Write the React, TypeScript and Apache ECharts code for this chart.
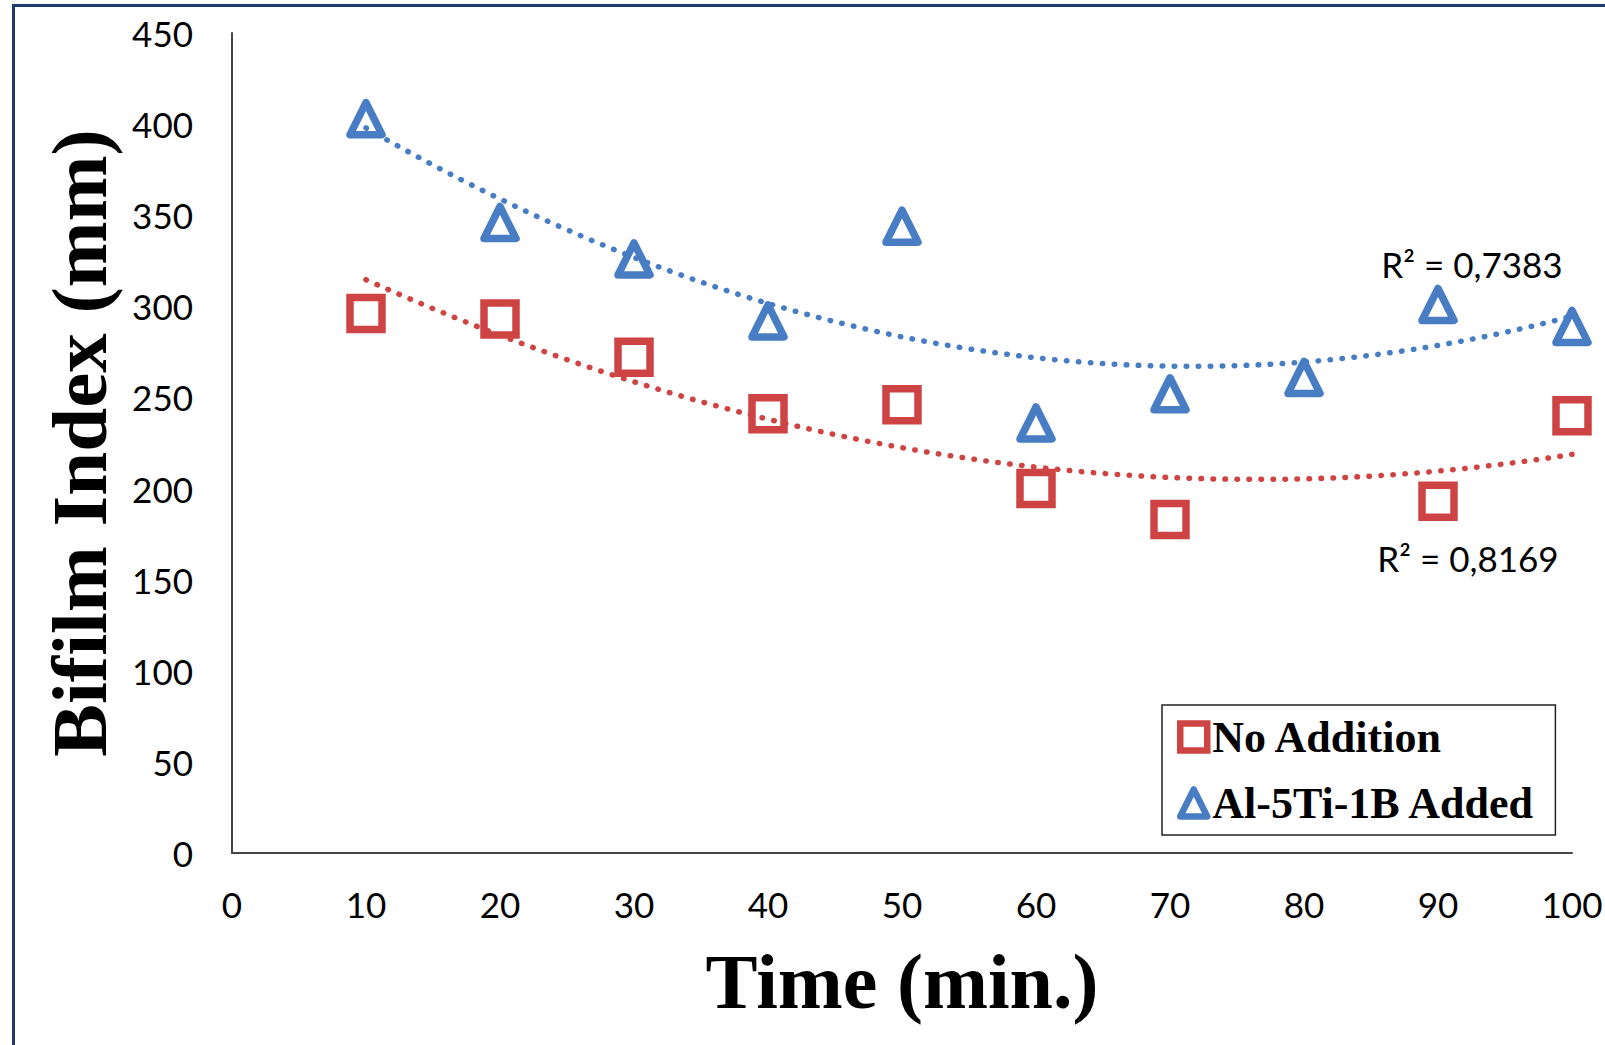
import React, { useEffect, useRef } from "react";
import * as echarts from "echarts";

// ---- data ----
const timeNoAddition = [10, 20, 30, 40, 50, 60, 70, 90, 100];
const bifilmNoAddition = [296, 293, 272, 241, 246, 200, 183, 193, 240];
const timeAdded = [10, 20, 30, 40, 50, 60, 70, 80, 90, 100];
const bifilmAdded = [403, 346, 326, 292, 344, 236, 252, 261, 301, 289];
const seriesNames = ["No Addition", "Al-5Ti-1B Added"];
const r2Labels = ["R² = 0,8169", "R² = 0,7383"];
const xTitle = "Time (min.)";
const yTitle = "Bifilm Index (mm)";

const RED = "#CE4444";
const BLUE = "#487DC4";

// least-squares quadratic (Excel polynomial trendline, order 2)
function quadFit(xs: number[], ys: number[]) {
  let n = xs.length, s1 = 0, s2 = 0, s3 = 0, s4 = 0, t0 = 0, t1 = 0, t2 = 0;
  for (let i = 0; i < n; i++) {
    const x = xs[i], y = ys[i];
    s1 += x; s2 += x * x; s3 += x * x * x; s4 += x * x * x * x;
    t0 += y; t1 += x * y; t2 += x * x * y;
  }
  const M = [
    [n, s1, s2],
    [s1, s2, s3],
    [s2, s3, s4],
  ];
  const V = [t0, t1, t2];
  const det = (m: number[][]) =>
    m[0][0] * (m[1][1] * m[2][2] - m[1][2] * m[2][1]) -
    m[0][1] * (m[1][0] * m[2][2] - m[1][2] * m[2][0]) +
    m[0][2] * (m[1][0] * m[2][1] - m[1][1] * m[2][0]);
  const D = det(M);
  const coef = [0, 1, 2].map((k) => {
    const mk = M.map((row, r) => row.map((v, c) => (c === k ? V[r] : v)));
    return det(mk) / D;
  });
  return coef; // a, b, c
}

function trendPoints(xs: number[], ys: number[]) {
  const [a, b, c] = quadFit(xs, ys);
  const pts: number[][] = [];
  const x0 = xs[0], x1 = xs[xs.length - 1];
  for (let x = x0; x <= x1 + 1e-9; x += 0.5) pts.push([x, a + b * x + c * x * x]);
  return pts;
}

export default function App() {
  const ref = useRef<HTMLDivElement>(null);
  useEffect(() => {
    if (!ref.current) return;
    const chart = echarts.init(ref.current, undefined, { renderer: "svg" });
    const tickFont = { fontFamily: "Lato", fontSize: 35, color: "#000" };
    const option: any = {
      animation: false,
      backgroundColor: "#fff",
      grid: {
        left: 232,
        right: 33,
        top: 33,
        bottom: 192,
        containLabel: false,
        outerBoundsMode: "none",
      },
      xAxis: {
        type: "value",
        min: 0,
        max: 100,
        interval: 10,
        splitLine: { show: false },
        axisTick: { show: false },
        axisLine: { lineStyle: { color: "#444", width: 2 } },
        axisLabel: { ...tickFont, margin: 33 },
        name: xTitle,
        nameLocation: "middle",
        nameGap: 89,
        nameTextStyle: {
          fontFamily: "Liberation Serif",
          fontWeight: "bold",
          fontSize: 78,
          color: "#000",
        },
      },
      yAxis: {
        type: "value",
        min: 0,
        max: 450,
        interval: 50,
        splitLine: { show: false },
        axisTick: { show: false },
        axisLine: { show: true, lineStyle: { color: "#444", width: 2 } },
        axisLabel: { ...tickFont, margin: 39 },
        name: yTitle,
        nameLocation: "middle",
        nameGap: 113,
        nameRotate: 90,
        nameTextStyle: {
          fontFamily: "Liberation Serif",
          fontWeight: "bold",
          fontSize: 79,
          color: "#000",
        },
      },
      legend: {
        left: 1162,
        top: 705,
        orient: "vertical",
        backgroundColor: "#fff",
        borderColor: "#222",
        borderWidth: 1.5,
        padding: [10, 20, 10, 15],
        itemGap: 22,
        itemWidth: 27,
        itemHeight: 27,
        textStyle: {
          fontFamily: "Liberation Serif",
          fontWeight: "bold",
          fontSize: 44,
          color: "#000",
        },
        data: [
          {
            name: seriesNames[0],
            icon: "rect",
            itemStyle: { color: "transparent", borderColor: RED, borderWidth: 6.5, opacity: 1 },
          },
          {
            name: seriesNames[1],
            icon: "triangle",
            itemStyle: { color: "transparent", borderColor: BLUE, borderWidth: 6.5, borderJoin: "round", opacity: 1 },
          },
        ],
      },
      series: [
        {
          name: seriesNames[0],
          type: "scatter",
          symbol: "rect",
          symbolSize: 32,
          z: 2,
          itemStyle: { color: "transparent", borderColor: RED, borderWidth: 7.5, opacity: 1 },
          data: timeNoAddition.map((t, i) => [t, bifilmNoAddition[i]]),
        },
        {
          name: seriesNames[1],
          type: "scatter",
          symbol: "triangle",
          symbolSize: 32,
          z: 2,
          itemStyle: { color: "transparent", borderColor: BLUE, borderWidth: 7.5, borderJoin: "round", opacity: 1 },
          data: timeAdded.map((t, i) => [t, bifilmAdded[i]]),
        },
        {
          name: "trend-no",
          type: "line",
          showSymbol: false,
          symbol: "none",
          z: 3,
          silent: true,
          lineStyle: { color: RED, width: 5.5, type: [0.5, 11.5], cap: "round", opacity: 1 },
          data: trendPoints(timeNoAddition, bifilmNoAddition),
        },
        {
          name: "trend-added",
          type: "line",
          showSymbol: false,
          symbol: "none",
          z: 3,
          silent: true,
          lineStyle: { color: BLUE, width: 5.5, type: [0.5, 11.5], cap: "round", opacity: 1 },
          data: trendPoints(timeAdded, bifilmAdded),
        },
      ],
      graphic: [
        {
          type: "rect",
          z: -1,
          shape: { x: 13.5, y: 5.5, width: 1700, height: 1200 },
          style: { fill: "none", stroke: "#1F3D6B", lineWidth: 3 },
          silent: true,
        },
        {
          type: "text",
          x: 1472,
          y: 264,
          style: {
            text: r2Labels[1],
            fontFamily: "Lato",
            fontSize: 35,
            fill: "#000",
            align: "center",
            verticalAlign: "middle",
          },
        },
        {
          type: "text",
          x: 1468,
          y: 558,
          style: {
            text: r2Labels[0],
            fontFamily: "Lato",
            fontSize: 35,
            fill: "#000",
            align: "center",
            verticalAlign: "middle",
          },
        },
      ],
    };
    chart.setOption(option);
    return () => chart.dispose();
  }, []);
  return (
    <div
      ref={ref}
      style={{ position: "absolute", left: 0, top: 0, width: 1605, height: 1045 }}
    />
  );
}
